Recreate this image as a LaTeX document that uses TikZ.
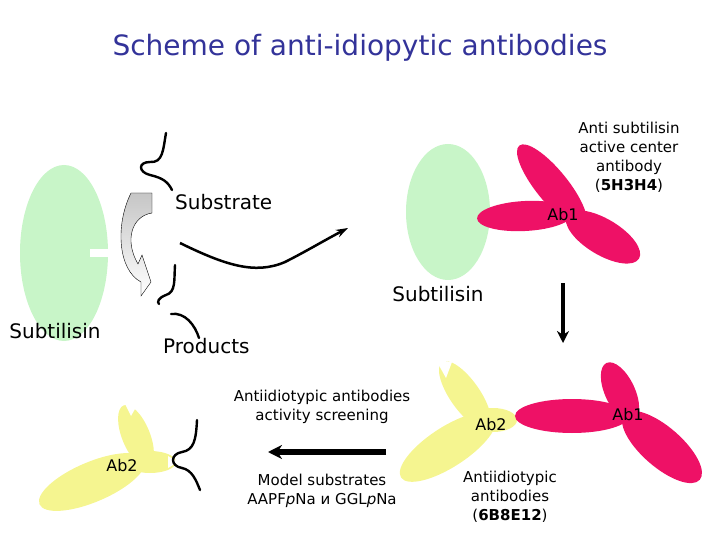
\documentclass[tikz,border=0pt]{standalone}
\usepackage{fontspec}
\setmainfont{DejaVu Sans}
\usetikzlibrary{arrows.meta}
\definecolor{ttl}{HTML}{333399}
\definecolor{mint}{HTML}{C8F5C8}
\definecolor{pink}{HTML}{EE1166}
\definecolor{yel}{HTML}{F5F590}
\begin{document}
\begin{tikzpicture}[x=1pt,y=-1pt,
 lbl/.style={inner sep=0pt,align=center,font=\fontsize{15}{19}\selectfont},
 big/.style={inner sep=0pt,font=\fontsize{20}{24}\selectfont},
 squig/.style={line width=2.4pt,line cap=round},
 ab1/.style={fill=pink},
 ab2/.style={fill=yel}]
\useasboundingbox (0,0) rectangle (720,540);
\node[inner sep=0pt,text=ttl,font=\fontsize{28}{32}\selectfont] (title) at (360,48) {Scheme of anti-idiopytic antibodies};
% left enzyme
\fill[mint] (64,253) ellipse [x radius=44,y radius=88];
\fill[white] (90,249) rectangle (110,257);
\node[big] (sub1) at (55,331) {Subtilisin};
% substrate
\draw[squig] (166,133) .. controls (163,150) and (163,163) .. (150,162) .. controls (138,162) and (138,172) .. (150,175) .. controls (163,178) and (168,182) .. (172,190);
\node[big,anchor=west] (substr) at (175,202) {Substrate};
% curved arrow
\draw[top color=gray!45,bottom color=white,draw=black,line width=0.4pt]
 (131,193) -- (152,193) -- (152,213) .. controls (132,216) and (124,240) .. (138,264) -- (142,255) -- (151,282) -- (141,296) -- (141,282) .. controls (118,270) and (115,225) .. (131,193) -- cycle;
% products
\draw[squig] (175,265) .. controls (174,280) and (176,292) .. (166,295) .. controls (158,298) and (157,302) .. (159,304);
\draw[squig] (171,314) .. controls (185,312) and (195,325) .. (199,338);
\node[big,anchor=west] (prod) at (163,346) {Products};
% long arrow
\coordinate (la1) at (180,243); \coordinate (la2) at (348,228);
\draw[line width=2.5pt,-{Stealth[length=12pt,width=8pt]}] (la1) .. controls (225,265) and (255,275) .. (285,262) .. controls (305,252) and (325,240) .. (la2);
% right enzyme + Ab1
\fill[mint] (448,212) ellipse [x radius=42,y radius=68];
\begin{scope}[ab1]
\fill[rotate around={-51:(552,186)}] (552,186) ellipse [x radius=52,y radius=16];
\fill[rotate around={-31:(603,237)}] (603,237) ellipse [x radius=42,y radius=18];
\fill[rotate around={3:(525,216)}] (525,216) ellipse [x radius=48,y radius=15];
\end{scope}
\node[lbl,font=\fontsize{16}{19}\selectfont] (ab1a) at (563,215) {Ab1};
\node[lbl] (anti) at (629,157) {Anti subtilisin\\active center\\antibody\\(\textbf{5H3H4})};
\node[big] (sub2) at (438,294) {Subtilisin};
\coordinate (d1) at (563,283); \coordinate (d2) at (563,343);
\draw[line width=4pt,-{Stealth[length=12pt,width=12pt]}] (d1) -- (d2);
% bottom right complex
\begin{scope}[ab2]
\fill[rotate around={33:(448,447)}] (448,447) ellipse [x radius=56,y radius=20];
\fill[rotate around={-55:(465,395)}] (465,395) ellipse [x radius=40,y radius=15];
\fill (493,420) ellipse [x radius=24,y radius=12];
\end{scope}
\fill[white] (436,360) -- (446,378) -- (452,362) -- cycle;
\begin{scope}[ab1]
\fill (572,416) ellipse [x radius=57,y radius=17];
\fill[rotate around={-65:(620,392)}] (620,392) ellipse [x radius=32,y radius=15];
\fill[rotate around={-41:(662,447)}] (662,447) ellipse [x radius=50,y radius=20];
\end{scope}
\node[lbl,font=\fontsize{16}{19}\selectfont] (ab2a) at (491,425) {Ab2};
\node[lbl,font=\fontsize{16}{19}\selectfont] (ab1b) at (628,415) {Ab1};
\node[lbl] (aid) at (510,497) {Antiidiotypic\\antibodies\\(\textbf{6B8E12})};
% middle texts and arrow
\node[lbl] (scr) at (322,407) {Antiidiotypic antibodies\\activity screening};
\coordinate (l1) at (386,452); \coordinate (l2) at (268,452);
\draw[line width=6pt,-{Stealth[length=14pt,width=14pt]}] (l1) -- (l2);
\node[lbl] (mod) at (322,491) {Model substrates\\AAPF\textit{p}Na и GGL\textit{p}Na};
% bottom left Ab2
\begin{scope}[ab2]
\fill[rotate around={23:(92,482)}] (92,482) ellipse [x radius=57,y radius=20];
\fill[rotate around={-68:(136,436)}] (136,436) ellipse [x radius=33,y radius=14];
\fill (150,462) ellipse [x radius=26,y radius=11];
\end{scope}
\fill[white] (123,400) -- (131,416) -- (139,402) -- cycle;
\fill[white] (168,456) -- (178,462) -- (168,468) -- cycle;
\node[lbl,font=\fontsize{16}{19}\selectfont] (ab2b) at (122,466) {Ab2};
\draw[squig] (197,420) .. controls (196,440) and (194,450) .. (182,452) .. controls (170,454) and (170,466) .. (182,468) .. controls (192,470) and (196,480) .. (200,490);
\end{tikzpicture}
\end{document}
